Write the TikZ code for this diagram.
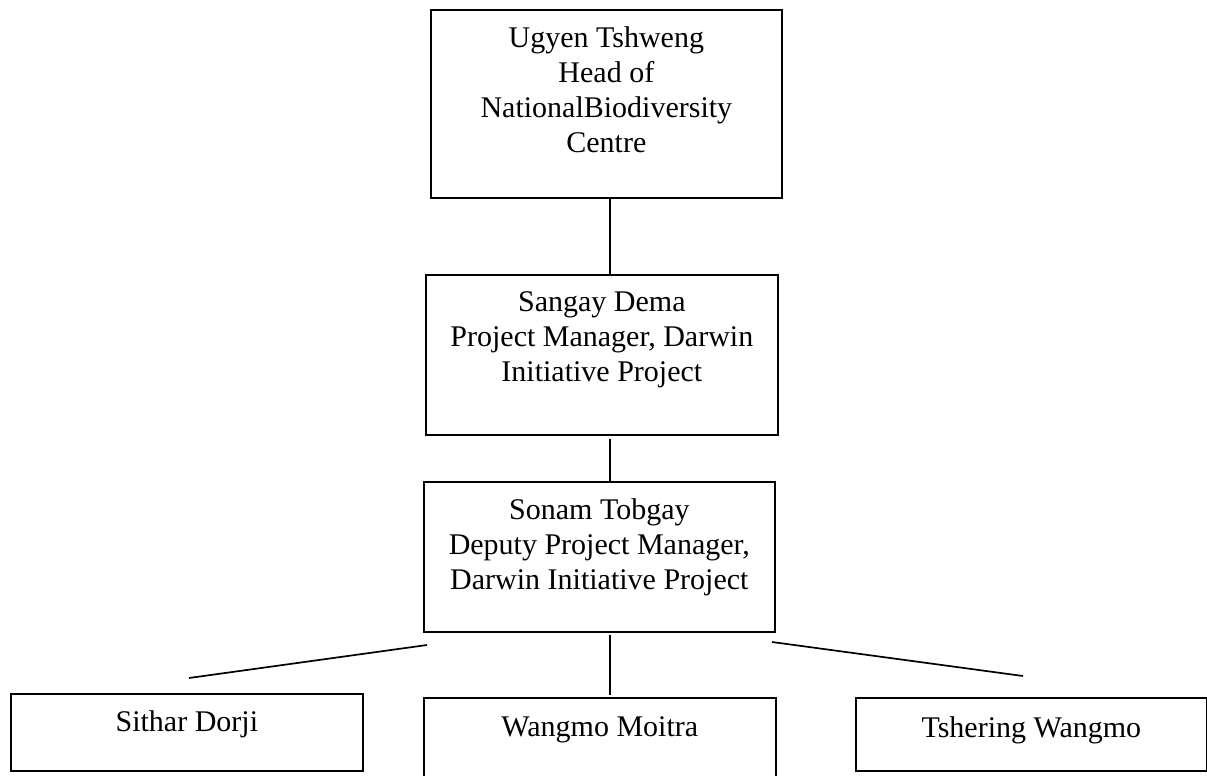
\documentclass[tikz,border=0pt]{standalone}
\usepackage{fontspec}
\setmainfont{Liberation Serif}
\begin{document}
\begin{tikzpicture}[x=1pt,y=-1pt,
  orgbox/.style={draw=black,line width=1.7pt,rectangle,inner sep=0pt,anchor=north west},
  orgtext/.style={anchor=north,inner sep=0pt,align=center,font=\fontsize{30}{35}\selectfont},
  link/.style={draw=black,line width=1.7pt}]
\useasboundingbox (0,0) rectangle (1207,776);
\clip (0,0) rectangle (1207,776);
% boxes
\node[orgbox,minimum width=351pt,minimum height=188pt] (b1) at (430,9) {};
\node[orgbox,minimum width=352pt,minimum height=160pt] (b2) at (425,274) {};
\node[orgbox,minimum width=351pt,minimum height=150pt] (b3) at (423,481) {};
\node[orgbox,minimum width=352pt,minimum height=77pt] (b4) at (10,693) {};
\node[orgbox,minimum width=352pt,minimum height=90pt] (b5) at (423,697) {};
\node[orgbox,minimum width=351pt,minimum height=73pt] (b6) at (855,697) {};
% texts
\node[orgtext] (t1) at ([yshift=-17.5pt]b1.north) {Ugyen Tshweng\\Head of\\NationalBiodiversity\\Centre};
\node[orgtext] (t2) at ([yshift=-17.5pt]b2.north) {Sangay Dema\\Project Manager, Darwin\\Initiative Project};
\node[orgtext] (t3) at ([yshift=-17pt]b3.north) {Sonam Tobgay\\Deputy Project Manager,\\Darwin Initiative Project};
\node[orgtext] (t4) at ([yshift=-17pt]b4.north) {Sithar Dorji};
\node[orgtext] (t5) at ([yshift=-19pt]b5.north) {Wangmo Moitra};
\node[orgtext] (t6) at ([yshift=-19pt]b6.north) {Tshering Wangmo};
% connectors
\coordinate (spine) at (610,0);
\coordinate (lA) at (427,645);
\coordinate (lB) at (189,678);
\coordinate (rA) at (772,642);
\coordinate (rB) at (1023,676);
\draw[link] (b1.south -| spine) -- (b2.north -| spine);
\draw[link] ([yshift=-3pt]b2.south -| spine) -- (b3.north -| spine);
\draw[link] ([yshift=-2pt]b3.south -| spine) -- ([yshift=2pt]b5.north -| spine);
\draw[link] (lA) -- (lB);
\draw[link] (rA) -- (rB);
\end{tikzpicture}
\end{document}
